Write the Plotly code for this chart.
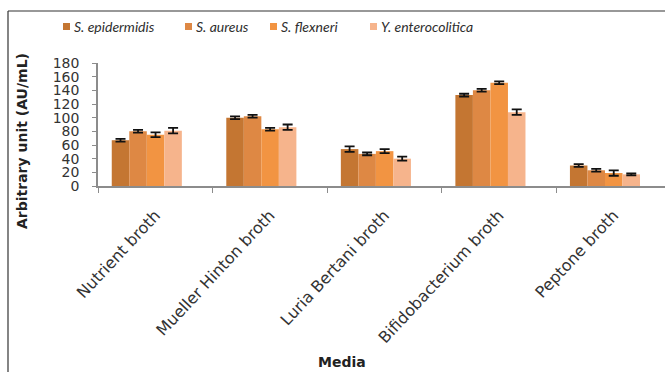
import plotly.graph_objects as go

# Growth media and the four test organisms
media = ["Nutrient broth", "Mueller Hinton broth", "Luria Bertani broth",
         "Bifidobacterium broth", "Peptone broth"]
series_names = ["S. epidermidis", "S. aureus", "S. flexneri", "Y. enterocolitica"]

# Antimicrobial activity (AU/mL) per organism, one value per medium
s_epidermidis = [67, 100, 54, 133, 30]
s_aureus = [80, 102, 47, 140, 23]
s_flexneri = [75, 83, 51, 151, 19]
y_enterocolitica = [81, 86, 40, 108, 17]

# Standard deviations
s_epidermidis_err = [2, 2, 4, 2, 2]
s_aureus_err = [2, 2, 2, 2, 2]
s_flexneri_err = [3.5, 2, 3, 2, 4]
y_enterocolitica_err = [4, 4, 3, 4, 1.5]

y_ticks = [0, 20, 40, 60, 80, 100, 120, 140, 160, 180]

values = [s_epidermidis, s_aureus, s_flexneri, y_enterocolitica]
errors = [s_epidermidis_err, s_aureus_err, s_flexneri_err, y_enterocolitica_err]
colors = ["#C47632", "#DE8844", "#F29442", "#F6B48C"]

W, H = 665, 372
L, R, T, B = 98, 0, 63, 186
PW, PH = W - L - R, H - T - B


def px_x(px):
    return (px - L) / PW


def px_y(py):
    return (H - B - py) / PH


FONT = "DejaVu Sans"
bar_w = 0.153
group_start = -0.38

fig = go.Figure()
for i, (name, vals, errs, col) in enumerate(zip(series_names, values, errors, colors)):
    fig.add_trace(go.Bar(
        x=media, y=vals, name=name,
        width=bar_w, offset=group_start + i * bar_w,
        marker=dict(color=col, line=dict(width=0)),
        error_y=dict(type="data", array=errs, visible=True,
                     color="#111111", thickness=1.8, width=5),
        showlegend=False,
    ))

shapes = []
annotations = []

# Legend row drawn above the plot
legend_sq = [63, 185, 270, 370]
for name, col, sx in zip(series_names, colors, legend_sq):
    shapes.append(dict(type="rect", xref="paper", yref="paper",
                       x0=px_x(sx), x1=px_x(sx + 7), y0=px_y(30), y1=px_y(23),
                       fillcolor=col, line=dict(width=0)))
    annotations.append(dict(text=f"<i>{name}</i>", xref="paper", yref="paper",
                            x=px_x(sx + 9), y=px_y(26), xanchor="left", yanchor="middle",
                            showarrow=False, font=dict(family="Lato", size=14, color="#2E2E2E")))

# Axis titles
annotations.append(dict(text="<b>Arbitrary unit (AU/mL)</b>", xref="paper", yref="paper",
                        x=px_x(22), y=px_y(141), textangle=-90, showarrow=False,
                        xanchor="center", yanchor="middle",
                        font=dict(family=FONT, size=14, color="#222222")))
annotations.append(dict(text="<b>Media</b>", xref="paper", yref="paper",
                        x=px_x(342), y=px_y(362), showarrow=False,
                        xanchor="center", yanchor="middle",
                        font=dict(family=FONT, size=14, color="#222222")))

# Outer frame (left and top edges)
shapes.append(dict(type="line", xref="paper", yref="paper",
                   x0=px_x(8), x1=px_x(8), y0=px_y(11), y1=px_y(H + 5),
                   line=dict(color="#333333", width=1.2)))
shapes.append(dict(type="line", xref="paper", yref="paper",
                   x0=px_x(8), x1=px_x(W + 5), y0=px_y(11), y1=px_y(11),
                   line=dict(color="#333333", width=1.2)))

fig.update_layout(
    width=W, height=H,
    margin=dict(l=L, r=R, t=T, b=B, autoexpand=False),
    paper_bgcolor="white", plot_bgcolor="white",
    barmode="overlay",
    shapes=shapes, annotations=annotations,
    font=dict(family=FONT, color="#333333"),
    xaxis=dict(
        type="category", range=[-0.5, 4.45],
        showline=True, linecolor="#8C8C8C", linewidth=1.5,
        ticks="outside", tickson="boundaries", ticklen=5, tickcolor="#8C8C8C",
        tickangle=-47, tickfont=dict(family=FONT, size=16, color="#333333"),
        ticklabelstandoff=12, showgrid=False, automargin=False,
    ),
    yaxis=dict(
        range=[0, 180], tickvals=y_ticks,
        showline=True, linecolor="#8C8C8C", linewidth=1.5,
        ticks="outside", ticklen=4, tickcolor="#8C8C8C",
        tickfont=dict(family=FONT, size=14, color="#333333"),
        ticklabelstandoff=10, showgrid=False, zeroline=False, automargin=False,
    ),
)

fig.write_html("out.html")
